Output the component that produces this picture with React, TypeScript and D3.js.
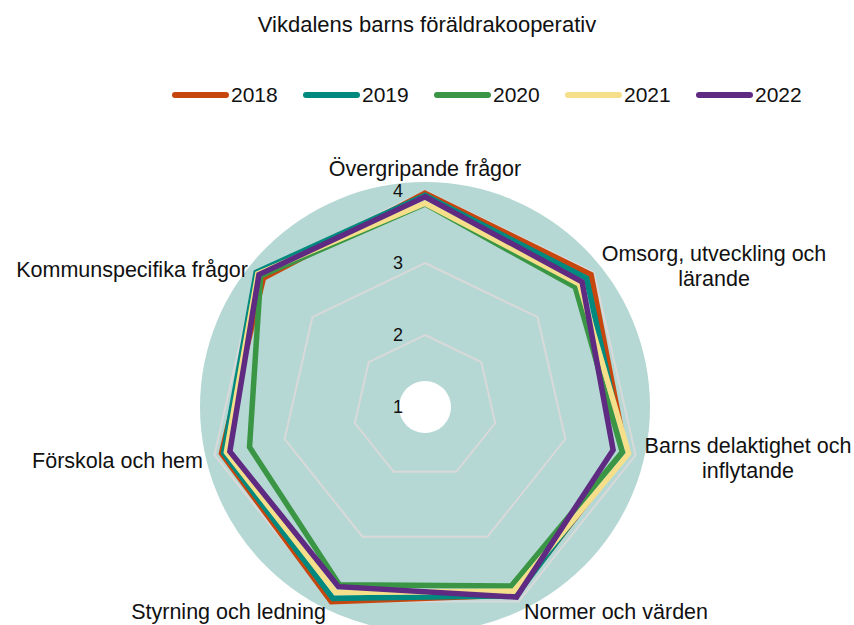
import React from "react";
import * as d3 from "d3";

// axes, clockwise from the top
const categories = [
  "Övergripande frågor",
  "Omsorg, utveckling och lärande",
  "Barns delaktighet och inflytande",
  "Normer och värden",
  "Styrning och ledning",
  "Förskola och hem",
  "Kommunspecifika frågor",
];

const years = ["2018", "2019", "2020", "2021", "2022"];
const v2018 = [3.97, 3.95, 3.86, 3.9, 4.0, 3.9, 3.87];
const v2019 = [3.94, 3.87, 3.84, 3.91, 3.95, 3.87, 4.0];
const v2020 = [3.82, 3.67, 3.81, 3.76, 3.74, 3.5, 3.92];
const v2021 = [3.83, 3.74, 3.9, 3.84, 3.86, 3.83, 3.97];
const v2022 = [3.92, 3.79, 3.68, 3.93, 3.77, 3.78, 3.95];
const ticks = [1, 2, 3, 4];

const colors = ["#c6460d", "#00897e", "#3a9645", "#f5df8a", "#5e2a82"];

const W = 854;
const H = 625;
const cx = 425;
const cy = 407;
const font = "'Liberation Sans', Arial, sans-serif";

// label positions per axis: [x, y, anchor]
const labelLayout: [number, number, string][] = [
  [425, 176, "middle"],
  [714, 261, "middle"],
  [748, 453, "middle"],
  [524, 619, "start"],
  [326, 619, "end"],
  [203, 468, "end"],
  [248, 277, "end"],
];
const labelLines = [
  ["Övergripande frågor"],
  ["Omsorg, utveckling och", "lärande"],
  ["Barns delaktighet och", "inflytande"],
  ["Normer och värden"],
  ["Styrning och ledning"],
  ["Förskola och hem"],
  ["Kommunspecifika frågor"],
];

export default function App() {
  const series = [v2018, v2019, v2020, v2021, v2022];
  const angle = d3
    .scalePoint<number>()
    .domain(d3.range(categories.length + 1))
    .range([0, 2 * Math.PI]);
  const r = d3.scaleLinear().domain([1, 4]).range([0, 216]);

  const radar = d3
    .lineRadial<number>()
    .angle((d, i) => angle(i) as number)
    .radius((d) => r(d))
    .curve(d3.curveLinearClosed);

  const grid = (v: number) => radar(categories.map(() => v)) as string;

  const legendX = 172;
  const legendStep = 131;

  return (
    <svg
      width={W}
      height={H}
      style={{ position: "absolute", left: 0, top: 0, fontFamily: font }}
    >
      <rect width={W} height={H} fill="#fff" />
      <text x={427} y={32} textAnchor="middle" fontSize={22} fill="#111">
        Vikdalens barns föräldrakooperativ
      </text>

      {years.map((y, i) => (
        <g key={y} transform={`translate(${legendX + i * legendStep},95)`}>
          <line x1={3} x2={54} stroke={colors[i]} strokeWidth={6} strokeLinecap="round" />
          <text x={59} dy="0.35em" fontSize={21} fill="#111">
            {y}
          </text>
        </g>
      ))}

      <g transform={`translate(${cx},${cy})`}>
        <circle r={225} fill="#b5d8d4" />
        {ticks.slice(1).map((t) => (
          <path key={t} d={grid(t)} fill="none" stroke="#d9d9d9" strokeWidth={2} />
        ))}
        <circle r={26} fill="#fff" />
        {series.map((s, i) => (
          <path
            key={years[i]}
            d={radar(s) as string}
            fill="none"
            stroke={colors[i]}
            strokeWidth={5.5}
            strokeLinejoin="miter"
          />
        ))}
        {ticks.map((t) => (
          <text
            key={t}
            x={-22}
            y={-r(t)}
            dy="0.35em"
            textAnchor="end"
            fontSize={18}
            fill="#111"
          >
            {t}
          </text>
        ))}
      </g>

      {labelLayout.map(([x, y, anchor], i) => (
        <text key={i} x={x} y={y} textAnchor={anchor} fontSize={21.5} fill="#111">
          {labelLines[i].map((l, j) => (
            <tspan key={j} x={x} dy={j === 0 ? 0 : 25}>
              {l}
            </tspan>
          ))}
        </text>
      ))}
    </svg>
  );
}
